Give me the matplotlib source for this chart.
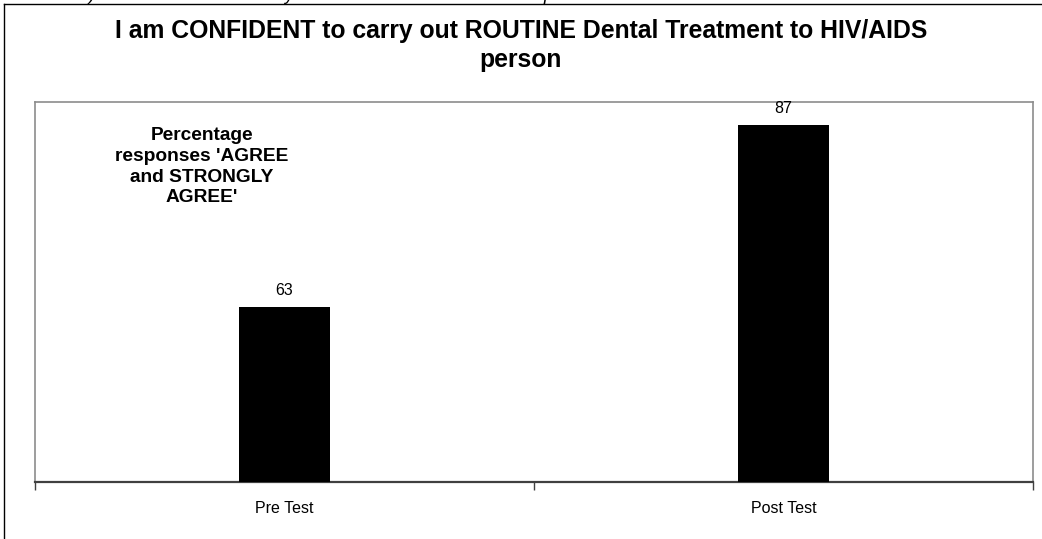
import matplotlib.pyplot as plt
from matplotlib.lines import Line2D

# data
categories = ['Pre Test', 'Post Test']
values = [63, 87]

title_lines = ['I am CONFIDENT to carry out ROUTINE Dental Treatment to HIV/AIDS',
               'person']
note = "Percentage\nresponses 'AGREE\nand STRONGLY\nAGREE'"
header = 'Chart 7) Staff confidence to carry out routine dental treatment to persons with HIV/AIDS'

plt.rcParams['font.family'] = ['Liberation Sans', 'DejaVu Sans']

W, H = 1042, 539
fig = plt.figure(figsize=(W / 100, H / 100), dpi=100)
ax = fig.add_axes([35 / W, 57 / H, 998 / W, 380 / H])

x = list(range(len(categories)))
ax.bar(x, values, width=0.184, color='black', zorder=3)
for xi, v in zip(x, values):
    ax.text(xi, v + 1.2, str(v), ha='center', va='bottom', fontsize=11.5)

ax.set_xlim(-0.5, 1.5)
ax.set_ylim(40, 90)
ax.set_yticks([])
ax.set_xticks(x)
ax.set_xticklabels(categories, fontsize=11.5)
ax.tick_params(axis='x', which='major', length=0, pad=14)
ax.set_xticks([-0.5, 0.5, 1.5], minor=True)
ax.tick_params(axis='x', which='minor', length=6, width=1, color='#404040')

for side in ['left', 'right', 'top']:
    ax.spines[side].set_color('#8c8c8c')
    ax.spines[side].set_linewidth(1.2)
ax.spines['bottom'].set_color('#404040')
ax.spines['bottom'].set_linewidth(1.6)

ax.text(0.167, 0.935, note, transform=ax.transAxes, ha='center', va='top',
        fontsize=13.8, fontweight='bold', linespacing=1.3)

fig.text(0.5, 1 - 38 / H, title_lines[0], ha='center', va='baseline',
         fontsize=17.8, fontweight='bold')
fig.text(0.5, 1 - 67 / H, title_lines[1], ha='center', va='baseline',
         fontsize=17.8, fontweight='bold')

# outer frame from the source document
fig.add_artist(Line2D([4 / W, 4 / W], [0, 1 - 4 / H], color='black', lw=1))
fig.add_artist(Line2D([4 / W, 1], [1 - 4 / H, 1 - 4 / H], color='black', lw=1))

# caption line above the chart, only its lowest strokes show in the crop
fig.text(30 / W, 1 + 0.5 / H, header, ha='left', va='baseline', fontsize=13,
         style='italic')

fig.savefig('out.png', dpi=100)
